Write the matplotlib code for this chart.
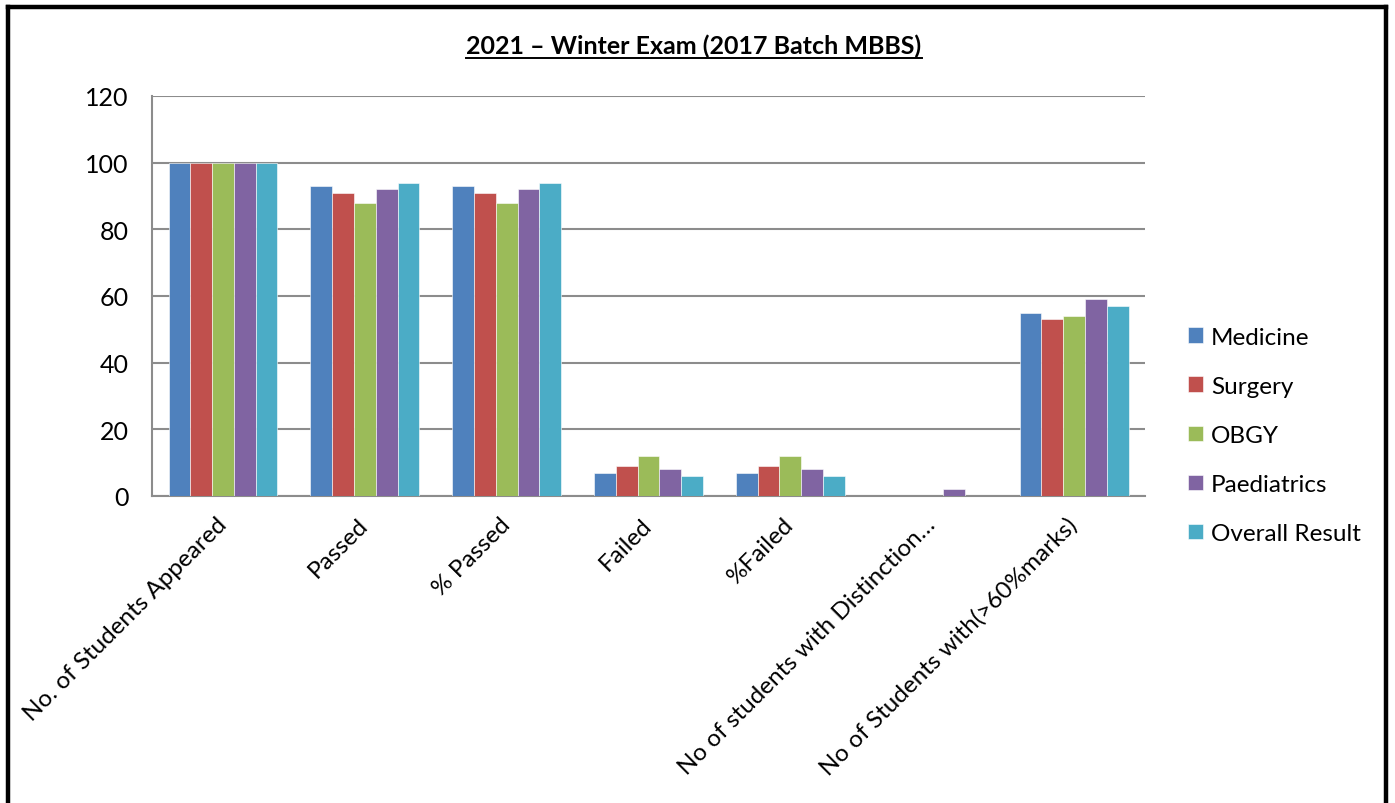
import matplotlib
matplotlib.use("Agg")
import matplotlib.pyplot as plt
import numpy as np
from matplotlib.lines import Line2D

plt.rcParams['font.family'] = ['Lato', 'DejaVu Sans']

categories = ["No. of Students Appeared", "Passed", "% Passed", "Failed", "%Failed",
              "No of students with Distinction…", "No of Students with(>60%marks)"]
series_names = ["Medicine", "Surgery", "OBGY", "Paediatrics", "Overall Result"]
medicine = [100, 93, 93, 7, 7, 0, 55]
surgery = [100, 91, 91, 9, 9, 0, 53]
obgy = [100, 88, 88, 12, 12, 0, 54]
paediatrics = [100, 92, 92, 8, 8, 2, 59]
overall = [100, 94, 94, 6, 6, 0, 57]
colors = ["#4F81BD", "#C0504D", "#9BBB59", "#8064A2", "#4BACC6"]
yticks = [0, 20, 40, 60, 80, 100, 120]

fig = plt.figure(figsize=(13.95, 8.04), dpi=100)
ax = fig.add_axes([0.109, 0.382, 0.7118, 0.4975])

x = np.arange(len(categories))
n = len(series_names)
bw = 0.1536
data = [medicine, surgery, obgy, paediatrics, overall]
for i, (name, vals, c) in enumerate(zip(series_names, data, colors)):
    ax.bar(x + (i - (n - 1) / 2) * bw, vals, width=bw, color=c, label=name,
           edgecolor='white', linewidth=0.4, zorder=3)

ax.set_xlim(-0.5, len(categories) - 0.5)
ax.set_ylim(0, 120)
ax.set_yticks(yticks)
ax.set_yticklabels([str(v) for v in yticks], fontsize=18)
ax.yaxis.grid(True, color='#8C8C8C', linewidth=1.5, zorder=0)
ax.set_axisbelow(True)
ax.tick_params(axis='y', length=0, pad=17)
ax.tick_params(axis='x', length=0, pad=18)
ax.set_xticks(x)
ax.set_xticklabels(categories, rotation=45, ha='right', va='center',
                   rotation_mode='anchor', fontsize=17.5)
for s in ['top', 'right']:
    ax.spines[s].set_visible(False)
for s in ['left', 'bottom']:
    ax.spines[s].set_color('#8C8C8C')
    ax.spines[s].set_linewidth(1.5)

title = fig.text(0.4975, 1 - 46 / 804, "2021 – Winter Exam (2017 Batch MBBS)", ha='center',
                 va='center', fontsize=18, fontweight='bold')

leg = fig.legend(loc='center left', bbox_to_anchor=(0.8516, 0.4572), frameon=False,
                 fontsize=17.5, handlelength=0.6, handleheight=0.6, handletextpad=0.35,
                 labelspacing=1.16, borderpad=0, borderaxespad=0)

# underline for the title, measured from the rendered text
fig.canvas.draw()
bb = title.get_window_extent(renderer=fig.canvas.get_renderer())
W, H = fig.bbox.width, fig.bbox.height
yline = (bb.y0 - 1) / H
fig.add_artist(Line2D([bb.x0 / W, bb.x1 / W], [yline, yline],
                      color='black', linewidth=1.4, transform=fig.transFigure))

# outer frame
lw = 3.2
fig.add_artist(Line2D([8 / 1395, 8 / 1395], [0, 1 - 8 / 804], color='black', linewidth=lw,
                      transform=fig.transFigure, solid_capstyle='projecting'))
fig.add_artist(Line2D([8 / 1395, 1386 / 1395], [1 - 8 / 804, 1 - 8 / 804], color='black',
                      linewidth=lw, transform=fig.transFigure, solid_capstyle='projecting'))
fig.add_artist(Line2D([1386 / 1395, 1386 / 1395], [0, 1 - 8 / 804], color='black', linewidth=lw,
                      transform=fig.transFigure, solid_capstyle='projecting'))

fig.savefig("out.png", dpi=100)
